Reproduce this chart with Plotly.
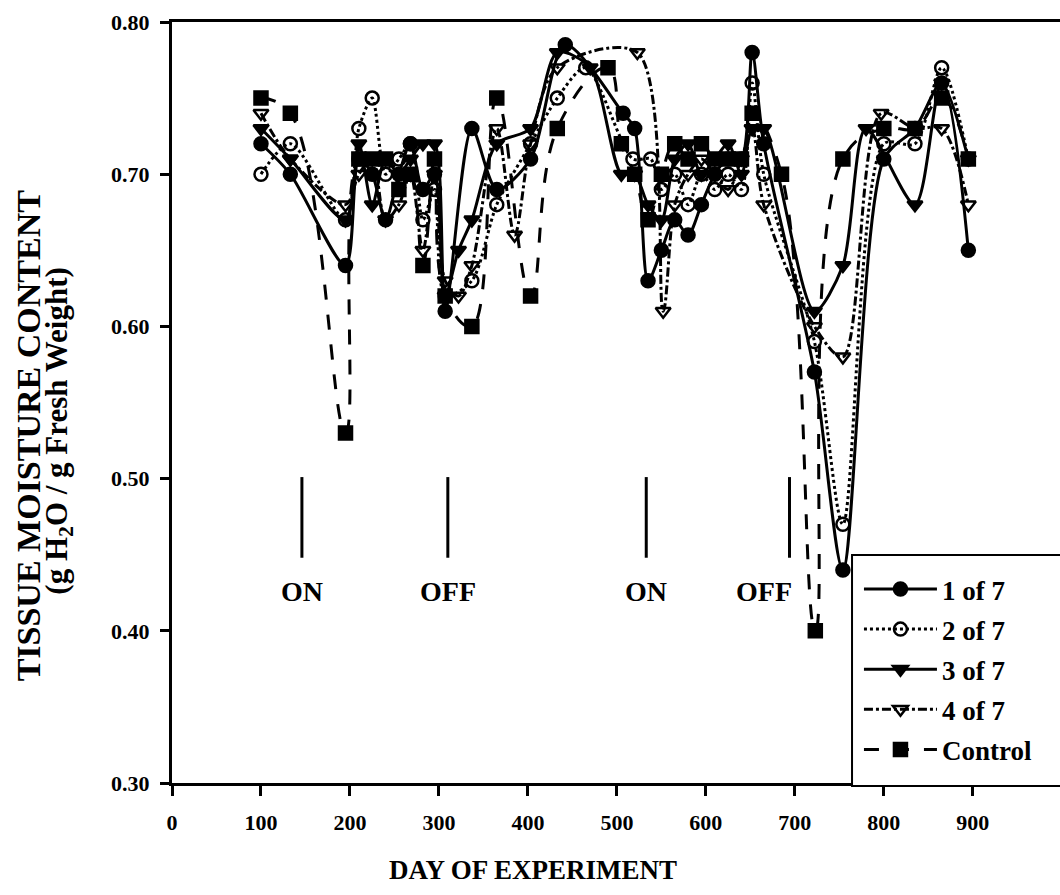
import plotly.graph_objects as go

# ---------------- data ----------------
days_1 = [100, 133, 195, 210, 225, 240, 255, 268, 282, 295, 307, 337, 365, 403, 442, 507, 520, 535,
          550, 565, 580, 595, 610, 625, 640, 652, 665, 722, 754, 800, 835, 865, 895]
vals_1 = [0.72, 0.70, 0.64, 0.71, 0.70, 0.67, 0.70, 0.72, 0.69, 0.70, 0.61, 0.73, 0.69, 0.71, 0.785, 0.74, 0.73, 0.63,
          0.65, 0.67, 0.66, 0.68, 0.70, 0.71, 0.71, 0.78, 0.72, 0.57, 0.44, 0.71, 0.73, 0.76, 0.65]

days_2 = [100, 133, 195, 210, 225, 240, 255, 268, 282, 295, 307, 337, 365, 403, 433, 465, 518, 538,
          550, 565, 580, 595, 610, 625, 640, 652, 665, 722, 754, 800, 835, 865, 895]
vals_2 = [0.70, 0.72, 0.67, 0.73, 0.75, 0.70, 0.71, 0.72, 0.67, 0.69, 0.62, 0.63, 0.68, 0.72, 0.75, 0.77, 0.71, 0.71,
          0.69, 0.70, 0.68, 0.70, 0.69, 0.70, 0.69, 0.76, 0.70, 0.59, 0.47, 0.72, 0.72, 0.77, 0.71]

days_3 = [100, 133, 195, 210, 225, 240, 255, 268, 282, 295, 307, 322, 337, 365, 403, 433, 470, 505, 520,
          535, 550, 565, 580, 595, 610, 625, 640, 652, 665, 722, 754, 780, 835, 865, 895]
vals_3 = [0.73, 0.71, 0.67, 0.72, 0.68, 0.71, 0.70, 0.71, 0.72, 0.72, 0.62, 0.65, 0.67, 0.72, 0.73, 0.78, 0.77, 0.70, 0.70,
          0.68, 0.67, 0.71, 0.72, 0.70, 0.71, 0.72, 0.70, 0.73, 0.73, 0.61, 0.64, 0.73, 0.68, 0.76, 0.71]

days_4 = [100, 133, 195, 210, 225, 240, 255, 268, 282, 295, 307, 322, 337, 365, 385, 403, 433, 523,
          552, 565, 580, 595, 610, 625, 640, 652, 665, 722, 754, 797, 835, 865, 895]
vals_4 = [0.74, 0.71, 0.68, 0.70, 0.71, 0.67, 0.68, 0.70, 0.65, 0.70, 0.63, 0.62, 0.64, 0.73, 0.66, 0.72, 0.77, 0.78,
          0.61, 0.68, 0.70, 0.71, 0.70, 0.69, 0.71, 0.73, 0.68, 0.60, 0.58, 0.74, 0.73, 0.73, 0.68]

days_c = [100, 133, 195, 210, 225, 240, 255, 268, 282, 295, 307, 337, 365, 403, 433, 490, 505, 520,
          535, 550, 565, 580, 595, 610, 625, 640, 652, 685, 723, 754, 800, 835, 865, 895]
vals_c = [0.75, 0.74, 0.53, 0.71, 0.71, 0.71, 0.69, 0.70, 0.64, 0.71, 0.62, 0.60, 0.75, 0.62, 0.73, 0.77, 0.72, 0.70,
          0.67, 0.70, 0.72, 0.71, 0.72, 0.71, 0.71, 0.71, 0.74, 0.70, 0.40, 0.71, 0.73, 0.73, 0.75, 0.71]

series_names = ["1 of 7", "2 of 7", "3 of 7", "4 of 7", "Control"]

event_days = [146, 310, 533, 694]
event_labels = ["ON", "OFF", "ON", "OFF"]
event_label_days = [146, 310, 533, 665]

x_ticks = [0, 100, 200, 300, 400, 500, 600, 700, 800, 900]
y_ticks = [0.30, 0.40, 0.50, 0.60, 0.70, 0.80]

# ---------------- figure ----------------
FONT = "Liberation Serif"
fig = go.Figure()

styles = [
    dict(x=days_1, y=vals_1, dash="solid", symbol="circle", name=series_names[0], sm=0.8),
    dict(x=days_2, y=vals_2, dash="dot", symbol="circle-open", name=series_names[1], sm=0.8),
    dict(x=days_3, y=vals_3, dash="solid", symbol="triangle-down", name=series_names[2], sm=0.8),
    dict(x=days_4, y=vals_4, dash="dashdot", symbol="triangle-down-open", name=series_names[3], sm=0.9),
    dict(x=days_c, y=vals_c, dash="longdash", symbol="square", name=series_names[4], sm=1.2),
]
for i, s in enumerate(styles):
    fig.add_trace(go.Scatter(
        x=s["x"], y=s["y"], name=s["name"], mode="lines+markers",
        legendgroup=str(i),
        line=dict(color="black", width=3, dash=s["dash"], shape="spline", smoothing=s["sm"]),
        marker=dict(symbol=s["symbol"], size=13, color="black",
                    line=dict(color="black", width=2.5)),
    ))

for d in event_days:
    fig.add_shape(type="line", x0=d, x1=d, y0=0.448, y1=0.501, xref="x", yref="y",
                  line=dict(color="black", width=3))
for d, t in zip(event_label_days, event_labels):
    fig.add_annotation(x=d, y=0.426, text=t, showarrow=False, xref="x", yref="y",
                       xanchor="center", yanchor="middle",
                       font=dict(family=FONT, size=28, color="black", weight="bold"))

# legend frame (white box over the plot, legend entries drawn on top)
fig.add_shape(type="rect", xref="paper", yref="paper", x0=0.7658, x1=1.02, y0=-0.004, y1=0.2996,
              layer="above", fillcolor="white", line=dict(color="black", width=2))

fig.add_annotation(x=-0.162, y=0.457, xref="paper", yref="paper", textangle=-90, showarrow=False,
                   xanchor="center", yanchor="middle",
                   text="TISSUE MOISTURE CONTENT",
                   font=dict(family=FONT, size=34, color="black", weight="bold"))
fig.add_annotation(x=-0.127, y=0.462, xref="paper", yref="paper", textangle=-90, showarrow=False,
                   xanchor="center", yanchor="middle",
                   text="(g H<sub>2</sub>O / g Fresh Weight)",
                   font=dict(family=FONT, size=31, color="black", weight="bold"))
fig.add_annotation(x=0.407, y=-0.114, xref="paper", yref="paper", showarrow=False,
                   xanchor="center", yanchor="middle",
                   text="DAY OF EXPERIMENT",
                   font=dict(family=FONT, size=27, color="black", weight="bold"))

fig.update_layout(
    width=1060, height=895,
    margin=dict(l=172, r=0, t=22, b=112),
    paper_bgcolor="white", plot_bgcolor="white",
    showlegend=True,
    legend=dict(x=0.7736, y=0.2865, xanchor="left", yanchor="top",
                bgcolor="rgba(0,0,0,0)", borderwidth=0,
                font=dict(family=FONT, size=27, color="black", weight="bold"),
                tracegroupgap=2, itemwidth=73),
    xaxis=dict(range=[0, 998], tickvals=x_ticks, ticktext=[str(v) for v in x_ticks],
               showgrid=False, zeroline=False, showline=True, linecolor="black", linewidth=3,
               mirror=True, ticks="outside", ticklen=10, tickwidth=3, tickcolor="black",
               ticklabelstandoff=8,
               tickfont=dict(family=FONT, size=22, color="black", weight="bold")),
    yaxis=dict(range=[0.30, 0.80], tickvals=y_ticks, ticktext=["%.2f" % v for v in y_ticks],
               showgrid=False, zeroline=False, showline=True, linecolor="black", linewidth=3,
               ticks="outside", ticklen=9, tickwidth=3, tickcolor="black",
               ticklabelstandoff=6,
               tickfont=dict(family=FONT, size=22, color="black", weight="bold")),
)

fig.write_html("out.html")
